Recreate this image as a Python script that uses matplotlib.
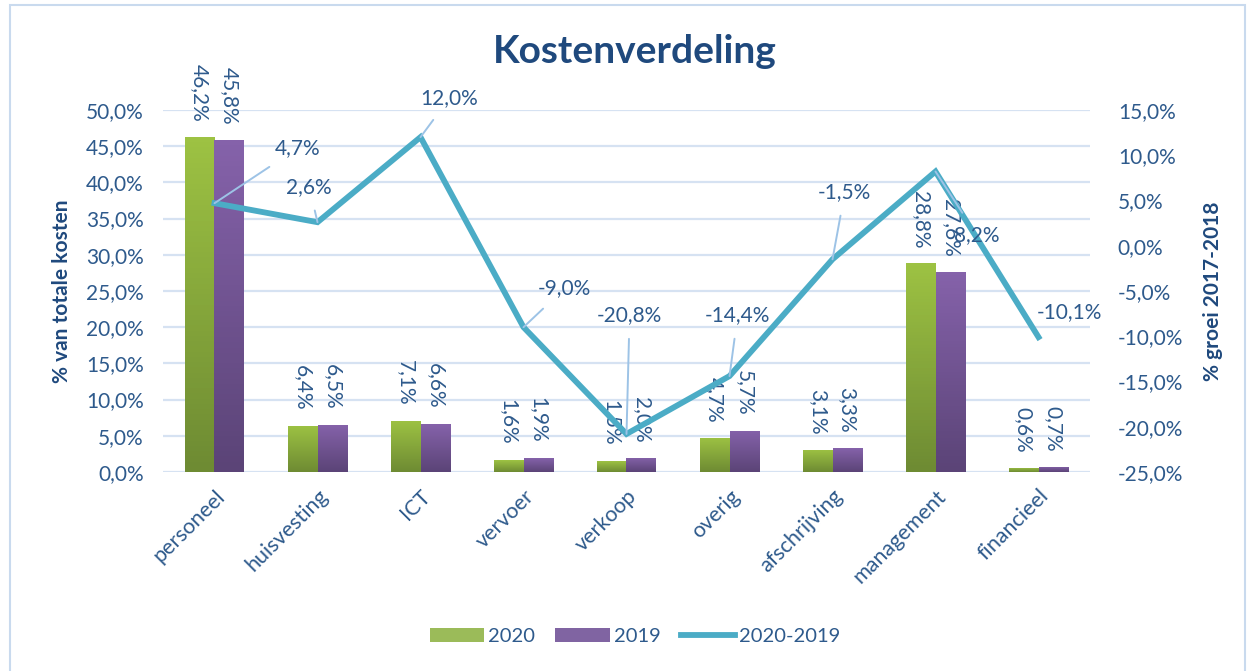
"""
Kostenverdeling: bars per cost category (2020 vs 2019) with growth line.
"""
import numpy as np
import matplotlib.pyplot as plt
from matplotlib.patches import Rectangle
from matplotlib.colors import LinearSegmentedColormap
from matplotlib.ticker import FuncFormatter, MultipleLocator

plt.rcParams["font.family"] = ["Lato", "DejaVu Sans"]

# Data
categories = ["personeel", "huisvesting", "ICT", "vervoer", "verkoop",
              "overig", "afschrijving", "management", "financieel"]
share_2020 = [46.2, 6.4, 7.1, 1.6, 1.5, 4.7, 3.1, 28.8, 0.6]
share_2019 = [45.8, 6.5, 6.6, 1.9, 2.0, 5.7, 3.3, 27.6, 0.7]
growth = [4.7, 2.6, 12.0, -9.0, -20.8, -14.4, -1.5, 8.2, -10.1]

# label offsets for growth line (category units, percent units)
growth_label_offset = [(0.81, 6.1), (-0.08, 3.9), (0.28, 4.3), (0.4, 4.3),
                       (0.03, 13.15), (0.08, 6.75), (0.12, 7.44), (0.4, -7.0),
                       (0.3, 2.8)]

text_col = "#2E5A8C"
title_col = "#1F497D"
grid_col = "#D6E2F2"
leader_col = "#9DC3E6"
fs = 15


def pct(v, decimals=1):
    return f"{v:.{decimals}f}%".replace(".", ",")


fig = plt.figure(figsize=(12.5, 6.71), dpi=100)
ax = fig.add_axes([0.1304, 0.2966, 0.7416, 0.5395])
ax2 = ax.twinx()

x = np.arange(len(categories))
w = 0.29

green_cmap = LinearSegmentedColormap.from_list("g", ["#6E8B33", "#9DC243"])
purple_cmap = LinearSegmentedColormap.from_list("p", ["#5B4477", "#8562AA"])
grad = np.linspace(0, 1, 64).reshape(-1, 1)

bars_a = ax.bar(x - w / 2, share_2020, w, color="#9BBB59", label="2020", zorder=2)
bars_b = ax.bar(x + w / 2, share_2019, w, color="#8064A2", label="2019", zorder=2)

for bars, cmap in ((bars_a, green_cmap), (bars_b, purple_cmap)):
    for b in bars:
        x0, y0 = b.get_x(), b.get_y()
        im = ax.imshow(grad, cmap=cmap, origin="lower", aspect="auto",
                       extent=[x0, x0 + b.get_width(), y0, y0 + b.get_height()],
                       zorder=2.1)
        im.set_clip_path(b)

ax.set_xlim(-0.5, len(categories) - 0.5)
ax.set_ylim(0, 50)
ax.yaxis.set_major_locator(MultipleLocator(5))
ax.yaxis.set_major_formatter(FuncFormatter(lambda v, p: pct(v)))
ax.grid(axis="y", color=grid_col, linewidth=1.6, zorder=0)
ax.set_axisbelow(True)

for vals, offs in ((share_2020, -w / 2), (share_2019, w / 2)):
    for i, v in enumerate(vals):
        ax.annotate(pct(v), (i + offs, v), xytext=(0, 11),
                    textcoords="offset points", rotation=-90,
                    ha="center", va="bottom", fontsize=fs, color=text_col,
                    zorder=5)

ax2.plot(x, growth, color="#4BACC6", linewidth=4.2, solid_joinstyle="miter",
         label="2020-2019", zorder=4)
ax2.set_ylim(-25, 15)
ax2.yaxis.set_major_locator(MultipleLocator(5))
ax2.yaxis.set_major_formatter(FuncFormatter(lambda v, p: pct(v)))

for i, v in enumerate(growth):
    dx, dy = growth_label_offset[i]
    arrow = None if i == len(growth) - 1 else dict(
        arrowstyle="-", color=leader_col, linewidth=1.4, shrinkA=8, shrinkB=0)
    ax2.annotate(pct(v), (i, v), xytext=(i + dx, v + dy), textcoords="data",
                 ha="center", va="center", fontsize=fs, color=text_col,
                 arrowprops=arrow, zorder=6)

for a in (ax, ax2):
    for s in a.spines.values():
        s.set_visible(False)
    a.tick_params(length=0, labelsize=fs, labelcolor=text_col)

ax.tick_params(axis="y", pad=14)
ax2.tick_params(axis="y", pad=20)
ax.set_xticks(x)
ax.set_xticklabels(categories, rotation=45, ha="right", rotation_mode="anchor",
                   fontsize=fs + 0.5)
ax.tick_params(axis="x", pad=10)

ax.set_ylabel("% van totale kosten", fontsize=fs, fontweight="bold",
              color=title_col, labelpad=10)
ax2.set_ylabel("% groei 2017-2018", fontsize=fs, fontweight="bold",
               color=title_col, rotation=90, labelpad=14)

fig.suptitle("Kostenverdeling", x=0.508, y=0.95, fontsize=28,
             fontweight="bold", color=title_col)

handles = [bars_a, bars_b, ax2.get_lines()[0]]
fig.legend(handles, ["2020", "2019", "2020-2019"], loc="center",
           bbox_to_anchor=(0.508, 0.051), ncol=3, frameon=False, fontsize=14.5,
           labelcolor=text_col, handlelength=2.7, columnspacing=1.0,
           handletextpad=0.2)

fig.patches.append(Rectangle((10 / 1250, -0.01), 1235 / 1250, 1 - 5 / 671 + 0.01,
                             transform=fig.transFigure, fill=False,
                             edgecolor="#C9DAEE", linewidth=1.5))

fig.savefig("out.png", dpi=100, facecolor="white")
